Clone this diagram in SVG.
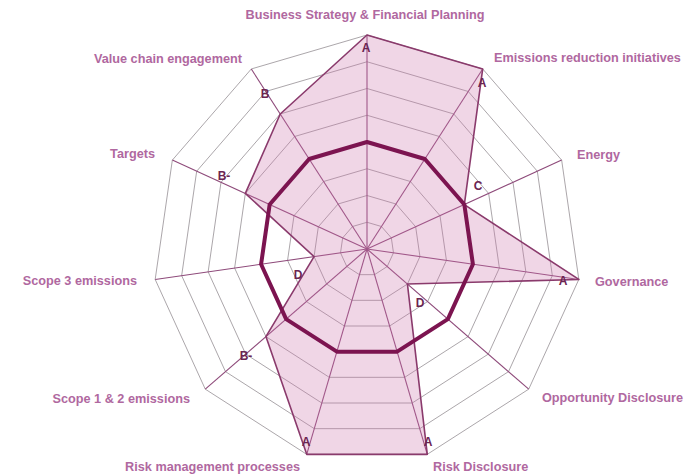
<svg xmlns="http://www.w3.org/2000/svg" width="694" height="475" viewBox="0 0 694 475">
<style>
.ring{fill:none;stroke:#a29ca0;stroke-width:0.9}
.spoke{stroke:#8e4a7a;stroke-width:1.1}
.area{fill:#cc78ac;fill-opacity:0.3;stroke:#8a3a6c;stroke-width:1.6;stroke-linejoin:round}
.avg{fill:none;stroke:#7c1450;stroke-width:4;stroke-linejoin:round}
.lbl{font-family:"Liberation Sans",Arial,sans-serif;font-weight:bold;font-size:12.7px;fill:#b068a0}
.grade{font-family:"Liberation Sans",Arial,sans-serif;font-weight:bold;font-size:12px;fill:#6b2552;text-anchor:middle}
</style>
<rect width="694" height="475" fill="#ffffff"/>
<g id="grid" transform="translate(367 249)">
<polygon class="ring" points="0,-26.75 14.46,-22.5 24.33,-11.11 26.48,3.81 20.21,17.52 7.54,25.67 -7.54,25.67 -20.21,17.52 -26.48,3.81 -24.33,-11.11 -14.46,-22.5"/>
<polygon class="ring" points="0,-53.5 28.92,-45.01 48.66,-22.22 52.95,7.61 40.43,35.04 15.07,51.33 -15.07,51.33 -40.43,35.04 -52.95,7.61 -48.66,-22.22 -28.92,-45.01"/>
<polygon class="ring" points="0,-80.25 43.38,-67.51 72.99,-33.34 79.43,11.42 60.64,52.56 22.61,77 -22.61,77 -60.64,52.56 -79.43,11.42 -72.99,-33.34 -43.38,-67.51"/>
<polygon class="ring" points="0,-107 57.84,-90.02 97.33,-44.45 105.91,15.23 80.86,70.07 30.14,102.67 -30.14,102.67 -80.86,70.07 -105.91,15.23 -97.33,-44.45 -57.84,-90.02"/>
<polygon class="ring" points="0,-133.75 72.31,-112.52 121.66,-55.56 132.39,19.03 101.08,87.59 37.68,128.33 -37.68,128.33 -101.08,87.59 -132.39,19.03 -121.66,-55.56 -72.31,-112.52"/>
<polygon class="ring" points="0,-160.5 86.77,-135.03 145.99,-66.67 158.86,22.84 121.29,105.11 45.21,154 -45.21,154 -121.29,105.11 -158.86,22.84 -145.99,-66.67 -86.77,-135.03"/>
<polygon class="ring" points="0,-187.25 101.23,-157.53 170.32,-77.78 185.34,26.65 141.51,122.63 52.75,179.66 -52.75,179.66 -141.51,122.63 -185.34,26.65 -170.32,-77.78 -101.23,-157.53"/>
<polygon class="ring" points="0,-214 115.69,-180.04 194.65,-88.9 211.82,30.45 161.72,140.15 60.28,205.33 -60.28,205.33 -161.72,140.15 -211.82,30.45 -194.65,-88.9 -115.69,-180.04"/>
</g>
<g id="connectors" transform="translate(367 249)">
<line class="spoke" x1="0" y1="0" x2="0" y2="-214"/>
<line class="spoke" x1="0" y1="0" x2="115.69" y2="-180.04"/>
<line class="spoke" x1="0" y1="0" x2="194.65" y2="-88.9"/>
<line class="spoke" x1="0" y1="0" x2="211.82" y2="30.45"/>
<line class="spoke" x1="0" y1="0" x2="161.72" y2="140.15"/>
<line class="spoke" x1="0" y1="0" x2="60.28" y2="205.33"/>
<line class="spoke" x1="0" y1="0" x2="-60.28" y2="205.33"/>
<line class="spoke" x1="0" y1="0" x2="-161.72" y2="140.15"/>
<line class="spoke" x1="0" y1="0" x2="-211.82" y2="30.45"/>
<line class="spoke" x1="0" y1="0" x2="-194.65" y2="-88.9"/>
<line class="spoke" x1="0" y1="0" x2="-115.69" y2="-180.04"/>
</g>
<g id="data" transform="translate(367 249)">
<polygon class="area" points="0,-214 115.69,-180.04 97.33,-44.45 211.82,30.45 40.43,35.04 60.28,205.33 -60.28,205.33 -101.08,87.59 -52.95,7.61 -121.66,-55.56 -86.77,-135.03"/>
<polygon class="avg" points="0,-107 57.84,-90.02 97.33,-44.45 105.91,15.23 80.86,70.07 30.14,102.67 -30.14,102.67 -80.86,70.07 -105.91,15.23 -97.33,-44.45 -57.84,-90.02"/>
</g>
<g id="axis-business"><text class="lbl" x="365" y="19" text-anchor="middle">Business Strategy &amp; Financial Planning</text><text class="grade" x="366" y="52">A</text></g>
<g id="axis-emissions"><text class="lbl" x="494" y="62">Emissions reduction initiatives</text><text class="grade" x="482" y="87">A</text></g>
<g id="axis-energy"><text class="lbl" x="577" y="159">Energy</text><text class="grade" x="478" y="190">C</text></g>
<g id="axis-governance"><text class="lbl" x="595" y="286">Governance</text><text class="grade" x="563" y="285">A</text></g>
<g id="axis-opportunity"><text class="lbl" x="542" y="402">Opportunity Disclosure</text><text class="grade" x="420" y="307">D</text></g>
<g id="axis-risk-disclosure"><text class="lbl" x="433" y="471">Risk Disclosure</text><text class="grade" x="428" y="446">A</text></g>
<g id="axis-risk-management"><text class="lbl" x="300" y="471" text-anchor="end">Risk management processes</text><text class="grade" x="306" y="446">A</text></g>
<g id="axis-scope12"><text class="lbl" x="190" y="403" text-anchor="end">Scope 1 &amp; 2 emissions</text><text class="grade" x="246" y="360">B-</text></g>
<g id="axis-scope3"><text class="lbl" x="137" y="285" text-anchor="end">Scope 3 emissions</text><text class="grade" x="298" y="279">D</text></g>
<g id="axis-targets"><text class="lbl" x="155" y="158" text-anchor="end">Targets</text><text class="grade" x="224" y="180">B-</text></g>
<g id="axis-value-chain"><text class="lbl" x="242" y="63" text-anchor="end">Value chain engagement</text><text class="grade" x="265" y="98">B</text></g>
</svg>
